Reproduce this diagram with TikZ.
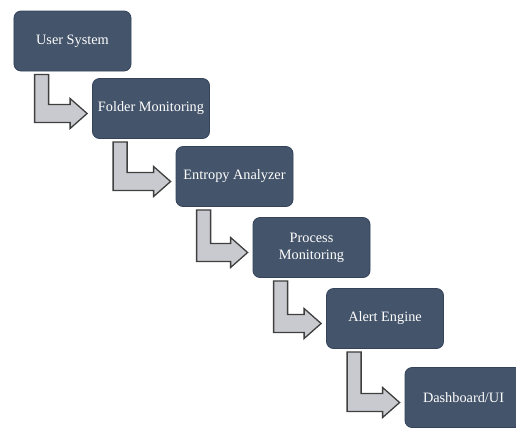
\documentclass[tikz,border=0pt]{standalone}
\usepackage{fontspec}
\setmainfont{Liberation Serif}
\usetikzlibrary{calc}
\definecolor{slate}{HTML}{44546A}
\definecolor{slateedge}{HTML}{34435A}
\definecolor{arrowgray}{HTML}{C9CACF}
\definecolor{arrowedge}{HTML}{3F3F3F}
% bent block arrow from the bottom of one stage to the left side of the next
\newcommand{\bentarrow}[2]{%
  \draw[flow] let \p1=(#1.south west), \p2=(#2.west) in
    (\x1+21bp,\y1-3bp) -- (\x1+35bp,\y1-3bp) -- (\x1+35bp,\y2+4bp)
    -- (\x2-22bp,\y2+4bp) -- (\x2-22bp,\y2+10bp) -- (\x2-5bp,\y2-5bp)
    -- (\x2-22bp,\y2-20bp) -- (\x2-22bp,\y2-14bp) -- (\x1+21bp,\y2-14bp) -- cycle;}
\begin{document}
\begin{tikzpicture}[x=1bp,y=-1bp]
    \tikzset{stage/.style = {shape=rectangle,rounded corners=7bp,fill=slate,draw=slateedge,
        line width=0.8bp,minimum width=117bp,minimum height=60bp,text=white,align=center,
        font=\fontsize{14.3bp}{17bp}\selectfont,inner sep=2bp}}
    \tikzset{flow/.style = {fill=arrowgray,draw=arrowedge,line width=1.3bp,line join=miter}}
    \useasboundingbox (0,0) rectangle (516,428);
    % stages
    \node[stage] (us) at (72.5,41) {User System};
    \node[stage] (fm) at (151,108.5) {Folder Monitoring};
    \node[stage] (ea) at (234.5,176.5) {Entropy Analyzer};
    \node[stage] (pm) at (311.5,247.5) {Process\\Monitoring};
    \node[stage] (ae) at (385,318.5) {Alert Engine};
    \node[stage] (ui) at (463.5,397.5) {Dashboard/UI};
    % arrows
    \bentarrow{us}{fm}
    \bentarrow{fm}{ea}
    \bentarrow{ea}{pm}
    \bentarrow{pm}{ae}
    \bentarrow{ae}{ui}
\end{tikzpicture}
\end{document}
